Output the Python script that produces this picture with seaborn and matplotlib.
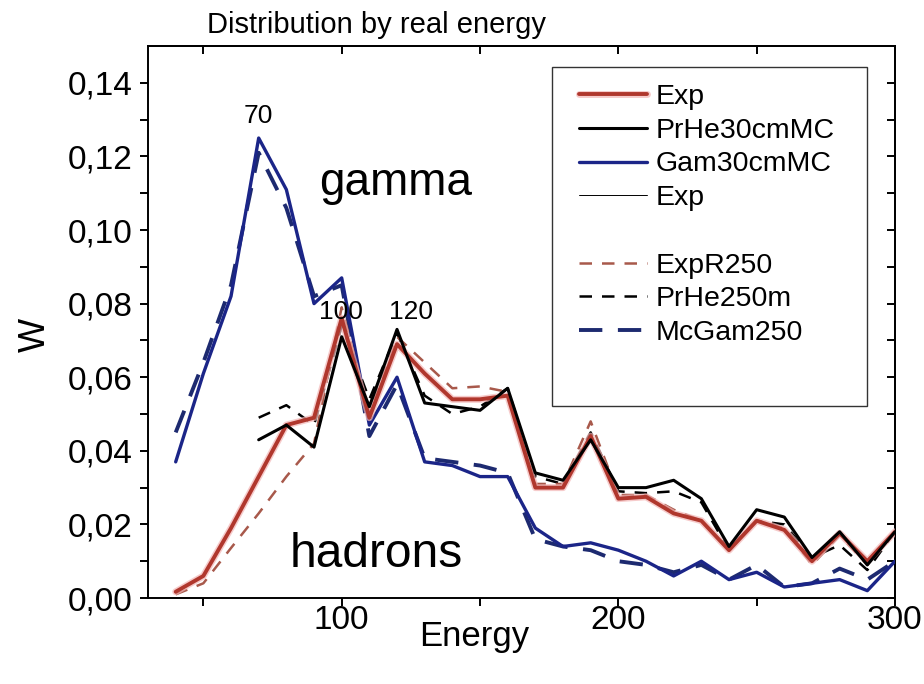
import matplotlib
matplotlib.use("Agg")
import matplotlib.pyplot as plt
import matplotlib.patheffects as pe
from matplotlib.lines import Line2D
from matplotlib.patches import Rectangle
import seaborn as sns
import pandas as pd

# ---------------- data ----------------
energy = [40, 50, 60, 70, 80, 90, 100, 110, 120, 130, 140, 150, 160, 170, 180,
          190, 200, 210, 220, 230, 240, 250, 260, 270, 280, 290, 300]
exp_w = [0.0017, 0.006, 0.019, 0.033, 0.047, 0.049, 0.076, 0.049, 0.069, 0.061,
         0.054, 0.054, 0.055, 0.030, 0.030, 0.044, 0.027, 0.0275, 0.023, 0.021,
         0.013, 0.021, 0.0185, 0.010, 0.0176, 0.010, 0.018]
expr250_w = [0.001, 0.004, 0.0136, 0.023, 0.033, 0.042, 0.079, 0.050, 0.071, 0.064,
             0.057, 0.0575, 0.056, 0.031, 0.031, 0.048, 0.028, 0.028, 0.024, 0.021,
             0.013, 0.021, 0.019, 0.009, 0.017, 0.009, 0.018]
gam30_w = [0.037, 0.061, 0.082, 0.125, 0.111, 0.080, 0.087, 0.047, 0.060, 0.037,
           0.036, 0.033, 0.033, 0.019, 0.014, 0.015, 0.013, 0.010, 0.006, 0.010,
           0.005, 0.007, 0.003, 0.004, 0.005, 0.002, 0.010]
mcgam250_w = [0.045, 0.064, 0.085, 0.121, 0.106, 0.082, 0.085, 0.044, 0.058, 0.038,
              0.037, 0.036, 0.034, 0.016, 0.014, 0.013, 0.010, 0.009, 0.007, 0.009,
              0.005, 0.009, 0.003, 0.004, 0.008, 0.005, 0.010]

energy_prhe = [70, 80, 90, 100, 110, 120, 130, 140, 150, 160, 170, 180, 190, 200,
               210, 220, 230, 240, 250, 260, 270, 280, 290, 300]
prhe30_w = [0.043, 0.047, 0.041, 0.071, 0.052, 0.073, 0.053, 0.052, 0.051, 0.057,
            0.034, 0.032, 0.043, 0.030, 0.030, 0.032, 0.027, 0.014, 0.024, 0.022,
            0.011, 0.018, 0.009, 0.018]
prhe250_w = [0.049, 0.0524, 0.047, 0.074, 0.054, 0.072, 0.055, 0.050, 0.052, 0.057,
             0.033, 0.031, 0.045, 0.029, 0.0285, 0.029, 0.026, 0.013, 0.021, 0.020,
             0.011, 0.0144, 0.0076, 0.018]

legend_labels = ["Exp", "PrHe30cmMC", "Gam30cmMC", "Exp", "",
                 "ExpR250", "PrHe250m", "McGam250"]
x_major = [100, 200, 300]
x_minor = [50, 150, 250]
y_major = [0.00, 0.02, 0.04, 0.06, 0.08, 0.10, 0.12, 0.14]
y_minor = [0.01, 0.03, 0.05, 0.07, 0.09, 0.11, 0.13]
y_labels = ["0,00", "0,02", "0,04", "0,06", "0,08", "0,10", "0,12", "0,14"]
peak_labels = ["70", "100", "120"]
peak_x = [70, 99.6, 125]
peak_y = [0.131, 0.0777, 0.0777]

title = "Distribution by real energy"
x_label = "Energy"
y_label = "W"

# ---------------- style ----------------
sns.set_theme(style="white")
plt.rcParams['font.family'] = ['Liberation Sans', 'DejaVu Sans']
plt.rcParams.update({
    "text.color": "black", "axes.labelcolor": "black",
    "xtick.color": "black", "ytick.color": "black",
    "xtick.bottom": True, "ytick.left": True,
})

C_RED = "#b0372d"
C_RED_D = "#a8594b"
C_BLUE = "#1b2588"
C_BLUE_D = "#1d2a70"
C_BLACK = "#000000"

fig = plt.figure(figsize=(9.24, 6.84), dpi=100)
ax = fig.add_axes([0.1602, 0.1257, 0.8084, 0.807])

df_main = pd.DataFrame({"energy": energy, "exp": exp_w, "expr250": expr250_w,
                        "gam30": gam30_w, "mcgam250": mcgam250_w})
df_prhe = pd.DataFrame({"energy": energy_prhe, "prhe30": prhe30_w,
                        "prhe250": prhe250_w})

sns.lineplot(data=df_main, x="energy", y="mcgam250", ax=ax, color=C_BLUE_D,
             linewidth=2.8, linestyle=(0, (6, 4)), estimator=None, zorder=3)
sns.lineplot(data=df_main, x="energy", y="gam30", ax=ax, color=C_BLUE,
             linewidth=2.4, estimator=None, zorder=4)
sns.lineplot(data=df_prhe, x="energy", y="prhe250", ax=ax, color=C_BLACK,
             linewidth=1.8, linestyle=(0, (5, 4)), estimator=None, zorder=5)
sns.lineplot(data=df_main, x="energy", y="expr250", ax=ax, color=C_RED_D,
             linewidth=1.8, linestyle=(0, (5, 4)), estimator=None, zorder=5)
sns.lineplot(data=df_main, x="energy", y="exp", ax=ax, color=C_RED,
             linewidth=2.8, estimator=None, zorder=6,
             path_effects=[pe.Stroke(linewidth=5.0, foreground="#f3b5b5", alpha=0.7),
                           pe.Normal()])
sns.lineplot(data=df_prhe, x="energy", y="prhe30", ax=ax, color=C_BLACK,
             linewidth=2.2, estimator=None, zorder=7)

ax.set_xlim(30, 300)
ax.set_ylim(0, 0.15)
ax.set_xticks(x_major)
ax.set_xticks(x_minor, minor=True)
ax.set_xticklabels([str(v) for v in x_major])
ax.set_yticks(y_major)
ax.set_yticks(y_minor, minor=True)
ax.set_yticklabels(y_labels)

for s in ax.spines.values():
    s.set_color("black")
    s.set_linewidth(1.4)
ax.tick_params(which="both", direction="out", length=6, width=1.4, color="black",
               labelsize=24, bottom=True, left=True, top=False, right=False)
ax.tick_params(axis="y", pad=5)
ax.tick_params(axis="x", pad=-1)
# mirrored inward ticks on top and right
axt = ax.secondary_xaxis("top")
axt.set_xticks(x_major + x_minor)
axt.tick_params(which="both", direction="in", length=6, width=1.4, top=True,
                labeltop=False, color="black")
axr = ax.secondary_yaxis("right")
axr.set_yticks(y_major + y_minor)
axr.tick_params(which="both", direction="in", length=6, width=1.4, right=True,
                labelright=False, color="black")
ax.set_xlabel(x_label, fontsize=25)
ax.xaxis.set_label_coords(0.436, -0.07)
ax.xaxis.label.set_va("center")
ax.set_ylabel(y_label, fontsize=26)
ax.yaxis.set_label_coords(-0.151, 0.476)
ax.yaxis.label.set_va("center")

for t, xx, yy in zip(peak_labels, peak_x, peak_y):
    ax.text(xx, yy, t, fontsize=19, ha="center", va="center", zorder=8)
ax.text(119.5, 0.1128, "gamma", fontsize=33, ha="center", va="center", zorder=8)
ax.text(112.5, 0.0117, "hadrons", fontsize=34.5, ha="center", va="center", zorder=8)

fig.text(0.2235, 0.963, title, fontsize=21, ha="left", va="center")

# legend
handles = [
    Line2D([], [], color=C_RED, lw=2.8,
           path_effects=[pe.Stroke(linewidth=5.0, foreground="#f3b5b5", alpha=0.7), pe.Normal()]),
    Line2D([], [], color=C_BLACK, lw=2.2),
    Line2D([], [], color=C_BLUE, lw=2.4),
    Line2D([], [], color=C_BLACK, lw=0.7),
    Line2D([], [], color="none", lw=0),
    Line2D([], [], color=C_RED_D, lw=1.8, linestyle=(0, (5, 4))),
    Line2D([], [], color=C_BLACK, lw=1.8, linestyle=(0, (5, 4))),
    Line2D([], [], color=C_BLUE_D, lw=2.8, linestyle=(0, (6, 4))),
]
leg = ax.legend(handles, legend_labels, loc="upper left",
                bbox_to_anchor=(0.577, 0.931), frameon=False, fontsize=20.5,
                handlelength=2.4, handletextpad=0.28, labelspacing=0.27,
                borderpad=0, borderaxespad=0)
ax.add_patch(Rectangle((0.541, 0.348), 0.422, 0.614, transform=ax.transAxes,
                       facecolor="white", edgecolor="#333333", lw=1.0, zorder=2))

fig.savefig("out.png", dpi=100)
